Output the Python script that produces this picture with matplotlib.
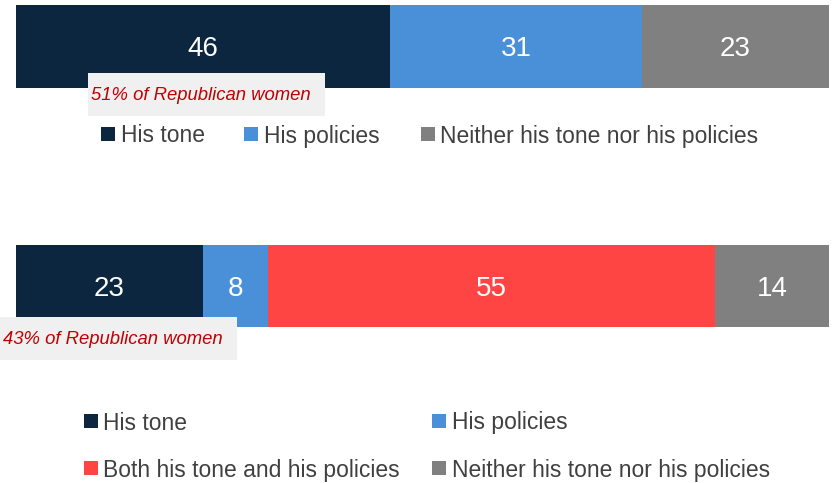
import matplotlib.pyplot as plt

# data
cats_top = ["His tone", "His policies", "Neither his tone nor his policies"]
vals_top = [46, 31, 23]
cats_bot = ["His tone", "His policies", "Both his tone and his policies",
            "Neither his tone nor his policies"]
vals_bot = [23, 8, 55, 14]
note_top = "51% of Republican women"
note_bot = "43% of Republican women"

colors = {"His tone": "#0d2640", "His policies": "#4a90d9",
          "Both his tone and his policies": "#ff4444",
          "Neither his tone nor his policies": "#808080"}

plt.rcParams["font.family"] = ["Liberation Sans", "DejaVu Sans"]

fig = plt.figure(figsize=(8.37, 4.83), dpi=100)
ax = fig.add_axes([0, 0, 1, 1])
# x: 0..100 spans pixel 16..829 ; y in pixel rows
ax.set_xlim(-16 / 8.13, 100 + 8 / 8.13)
ax.set_ylim(483, 0)
ax.axis("off")


def stacked(vals, cats, yc, h):
    left = 0
    for v, c in zip(vals, cats):
        ax.barh(yc, v, left=left, height=h, color=colors[c], linewidth=0)
        ax.text(left + v / 2, yc + 2.5, str(v), color="white", fontsize=20,
                ha="center", va="center")
        left += v


stacked(vals_top, cats_top, 46.5, 83)
stacked(vals_bot, cats_bot, 286, 82)

px = 100 / 813.0  # x units per pixel


def note(text, x0, x1, y0, y1):
    ax.fill_between([(x0 - 16) * px, (x1 - 16) * px], y0, y1,
                    color="#f0f0f0", linewidth=0, zorder=3)
    ax.text((x0 - 16 + 3) * px, (y0 + y1) / 2 + 1.5, text, color="#c00000",
            fontsize=13.3, style="italic", ha="left", va="center", zorder=4)


note(note_top, 88, 325, 73, 116)
note(note_bot, 0, 237, 317, 360)


def legend_item(label, xs, y):
    ax.scatter([(xs + 7.5 - 16) * px], [y], marker="s", s=110,
               color=colors[label], linewidths=0)
    ax.text((xs + 20 - 16) * px, y + 2, label, color="#404040", fontsize=16.5,
            ha="left", va="center")


legend_item(cats_top[0], 101, 134)
legend_item(cats_top[1], 244, 134)
legend_item(cats_top[2], 420, 134)

legend_item(cats_bot[0], 83, 421)
legend_item(cats_bot[1], 432, 421)
legend_item(cats_bot[2], 83, 468)
legend_item(cats_bot[3], 432, 468)

fig.savefig("out.png", dpi=100)
